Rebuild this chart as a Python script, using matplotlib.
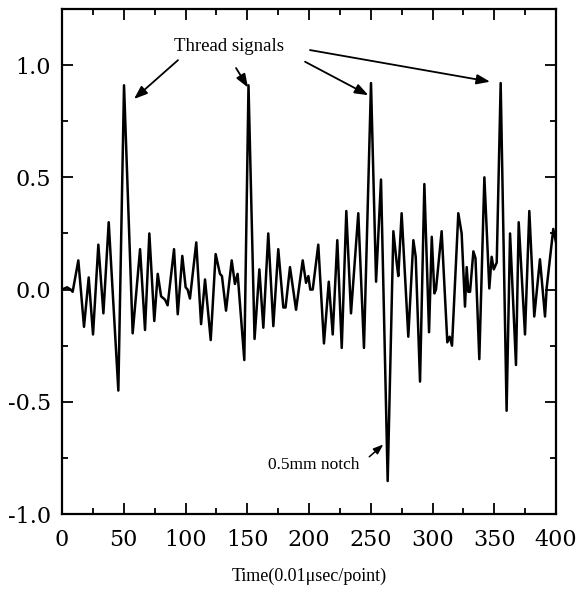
import matplotlib
matplotlib.use("Agg")
import matplotlib.pyplot as plt
from matplotlib.ticker import MultipleLocator

# ---- data ----
time_pts = [0, 4, 7, 8.6, 13.2, 17.8, 21.6, 25.1, 29.4, 33.5,
            37.8, 45.6, 50.2, 57.2, 63.2, 67.2, 70.7, 74.7, 77.5, 80.2,
            83.4, 85.5, 90.7, 93.7, 97.4, 100.1, 101.7, 103.6, 108.7, 112.6,
            115.8, 120.4, 124.4, 127.9, 129.5, 132.8, 137.4, 140.0, 142.2, 147.6,
            151.0, 155.9, 159.8, 163.0, 167.0, 171.1, 175.1, 179.2, 181.0, 184.6,
            189.5, 194.9, 197.6, 199.5, 201.0, 203.0, 207.5, 212.1, 216.0, 219.2,
            222.9, 226.5, 230.2, 234.0, 239.9, 244.5, 250.2, 254.3, 258.3, 263.7,
            268.3, 271.0, 272.3, 275.0, 280.4, 284.5, 286.4, 289.9, 293.4, 297.2,
            299.4, 301.5, 302.8, 307.4, 312.0, 313.9, 315.8, 320.9, 323.6, 326.3,
            327.7, 329.0, 330.4, 333.1, 334.8, 337.9, 342.0, 346.0, 347.9, 349.6,
            352.0, 355.2, 360.0, 362.8, 367.6, 369.8, 374.9, 378.4, 382.4, 387.0,
            391.1, 392.5, 397.8, 400.0]
amplitude = [0.0, 0.01, 0.0, -0.01, 0.13, -0.166, 0.054, -0.20, 0.20, -0.106,
             0.30, -0.45, 0.91, -0.195, 0.18, -0.18, 0.25, -0.14, 0.07, -0.03,
             -0.045, -0.07, 0.18, -0.11, 0.15, 0.01, 0.0, -0.04, 0.21, -0.154,
             0.045, -0.225, 0.158, 0.07, 0.06, -0.094, 0.13, 0.025, 0.07, -0.314,
             0.91, -0.22, 0.09, -0.17, 0.25, -0.163, 0.18, -0.08, -0.08, 0.10,
             -0.09, 0.13, 0.03, 0.06, 0.0, 0.0, 0.20, -0.24, 0.035, -0.20,
             0.22, -0.26, 0.35, -0.106, 0.34, -0.26, 0.92, 0.035, 0.49, -0.853,
             0.26, 0.12, 0.06, 0.34, -0.21, 0.22, 0.146, -0.41, 0.47, -0.19,
             0.235, -0.017, 0.0, 0.26, -0.235, -0.21, -0.25, 0.34, 0.25, -0.076,
             0.10, -0.01, -0.01, 0.17, 0.14, -0.31, 0.50, 0.005, 0.146, 0.09,
             0.12, 0.92, -0.54, 0.25, -0.336, 0.30, -0.20, 0.35, -0.12, 0.135,
             -0.12, 0.01, 0.27, 0.21]

x_ticks = [0, 50, 100, 150, 200, 250, 300, 350, 400]
y_ticks = [-1.0, -0.5, 0.0, 0.5, 1.0]
y_tick_labels = ["-1.0", "-0.5", "0.0", "0.5", "1.0"]

thread_label = "Thread signals"
thread_text_pos = (135, 1.085)
thread_arrow_starts = [(93.9, 1.022), (140.9, 0.987), (196.8, 1.015), (200.8, 1.067)]
thread_arrow_ends = [(58.3, 0.849), (150.6, 0.90), (248.0, 0.866), (346.6, 0.926)]

notch_label = "0.5mm notch"
notch_text_pos = (166.6, -0.78)
notch_arrow_start = (248.8, -0.745)
notch_arrow_end = (260.2, -0.69)

x_label = "Time(0.01\u03bcsec/point)"

# ---- figure ----
fig = plt.figure(figsize=(5.77, 5.95), dpi=100)
ax = fig.add_axes([0.1075, 0.1361, 0.8561, 0.8488])

ax.plot(time_pts, amplitude, color="black", lw=1.8, solid_joinstyle="round")

ax.set_xlim(0, 400)
ax.set_ylim(-1.0, 1.25)

ax.set_xticks(x_ticks)
ax.xaxis.set_minor_locator(MultipleLocator(25))
ax.set_yticks(y_ticks)
ax.set_yticklabels(y_tick_labels)
ax.yaxis.set_minor_locator(MultipleLocator(0.25))

ax.tick_params(which="both", direction="in", top=True, right=True, width=1.3)
ax.tick_params(which="major", length=8)
ax.tick_params(which="minor", length=4.5)
ax.tick_params(axis="x", which="major", pad=11)
ax.tick_params(axis="y", which="major", pad=8)

for lab in ax.get_xticklabels() + ax.get_yticklabels():
    lab.set_fontfamily("DejaVu Serif")
    lab.set_fontsize(16)

for sp in ax.spines.values():
    sp.set_linewidth(1.6)

ax.set_xlabel(x_label, family="Liberation Serif", fontsize=13, labelpad=12)

ax.text(thread_text_pos[0], thread_text_pos[1], thread_label, ha="center", va="center",
        family="Liberation Serif", fontsize=13.5)
for (sx, sy), (ex, ey) in zip(thread_arrow_starts, thread_arrow_ends):
    ax.annotate("", xy=(ex, ey), xytext=(sx, sy),
                arrowprops=dict(arrowstyle="-|>,head_length=0.8,head_width=0.3",
                                color="black", lw=1.3, shrinkA=0, shrinkB=0))

ax.text(notch_text_pos[0], notch_text_pos[1], notch_label, ha="left", va="center",
        family="Liberation Serif", fontsize=12.5)
ax.annotate("", xy=notch_arrow_end, xytext=notch_arrow_start,
            arrowprops=dict(arrowstyle="-|>,head_length=0.6,head_width=0.22",
                            color="black", lw=1.1, shrinkA=0, shrinkB=0))

fig.savefig("out.png", dpi=100)
